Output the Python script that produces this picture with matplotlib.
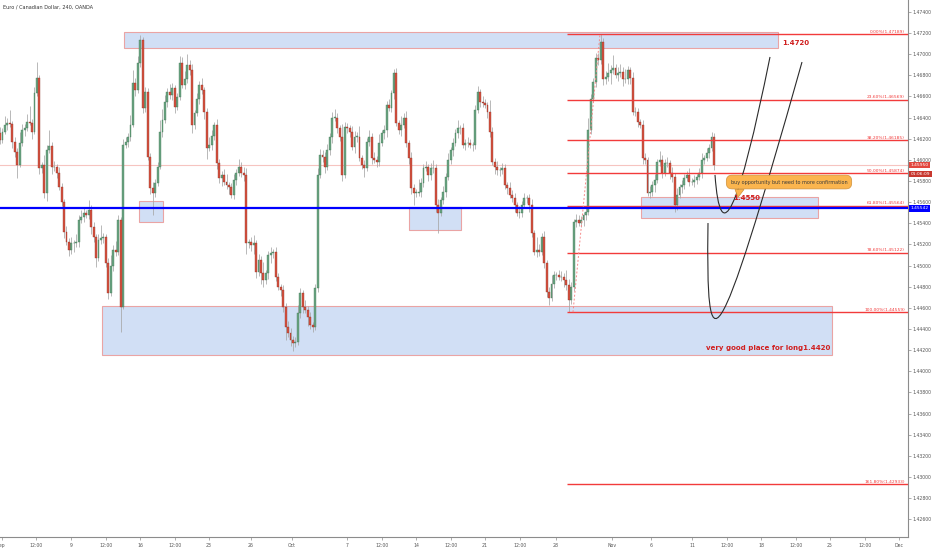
import numpy as np
import matplotlib
matplotlib.use("Agg")
import matplotlib.pyplot as plt
from matplotlib.patches import Rectangle, Polygon, PathPatch
from matplotlib.path import Path
from matplotlib.transforms import blended_transform_factory

##############################
## EURCAD 4h closes (early Sep -> mid Nov)
close = [
    # early Sep
    1.4619, 1.4626, 1.4633, 1.4635, 1.4634, 1.4617, 1.4607, 1.4595, 1.4616, 1.4628,
    1.4630, 1.4636, 1.4635, 1.4626, 1.4663, 1.4677, 1.4592,
    # 9 -> 16 Sep
    1.4595, 1.4569, 1.4609, 1.4613, 1.4593, 1.4593, 1.4588, 1.4574, 1.4560, 1.4532,
    1.4522, 1.4515, 1.4521, 1.4521, 1.4522, 1.4543, 1.4546, 1.4550, 1.4548, 1.4553,
    1.4536, 1.4527, 1.4507, 1.4524, 1.4526, 1.4527, 1.4502, 1.4474, 1.4500, 1.4515,
    1.4513, 1.4543, 1.4461, 1.4614,
    1.4617, 1.4622, 1.4633, 1.4673, 1.4666, 1.4692, 1.4713, 1.4649, 1.4664, 1.4603,
    1.4573, 1.4569, 1.4578, 1.4593, 1.4626, 1.4638, 1.4655, 1.4664, 1.4661, 1.4668,
    1.4650, 1.4659, 1.4692,
    # 23 Sep -> early Oct
    1.4671, 1.4676, 1.4690, 1.4685, 1.4633, 1.4644, 1.4658, 1.4671, 1.4666, 1.4645,
    1.4611, 1.4614, 1.4623, 1.4633, 1.4597, 1.4583, 1.4586, 1.4579, 1.4576, 1.4574,
    1.4567, 1.4581, 1.4588, 1.4593, 1.4588, 1.4586, 1.4521, 1.4522,
    1.4519, 1.4521, 1.4494, 1.4505, 1.4493, 1.4486, 1.4493, 1.4510,
    1.4512, 1.4513, 1.4489, 1.4480, 1.4477, 1.4461, 1.4442, 1.4436, 1.4430, 1.4427,
    1.4428, 1.4455, 1.4474, 1.4461, 1.4458, 1.4451, 1.4444, 1.4442, 1.4479, 1.4586,
    1.4605, 1.4603,
    # Oct -> end Oct
    1.4593, 1.4609, 1.4622, 1.4640, 1.4640, 1.4630, 1.4622, 1.4586, 1.4631, 1.4630,
    1.4626, 1.4612, 1.4622, 1.4622, 1.4602, 1.4595, 1.4592, 1.4617, 1.4622, 1.4602,
    1.4600, 1.4598, 1.4616, 1.4625, 1.4628, 1.4652, 1.4649, 1.4663, 1.4682, 1.4635,
    1.4628, 1.4633, 1.4640, 1.4616, 1.4602, 1.4573, 1.4569, 1.4569, 1.4570, 1.4578,
    1.4592, 1.4593, 1.4586, 1.4592, 1.4592, 1.4557, 1.4550, 1.4562, 1.4570, 1.4584,
    1.4600, 1.4609, 1.4616, 1.4625, 1.4630, 1.4630, 1.4614, 1.4616, 1.4616, 1.4614,
    1.4614, 1.4647, 1.4664, 1.4655, 1.4654, 1.4652, 1.4645, 1.4626, 1.4598, 1.4593,
    1.4590, 1.4590, 1.4592, 1.4576, 1.4573, 1.4567, 1.4564, 1.4557, 1.4550, 1.4550,
    1.4557, 1.4564, 1.4564, 1.4557, 1.4531, 1.4513, 1.4515, 1.4513, 1.4527, 1.4502,
    1.4475, 1.4469, 1.4483, 1.4491, 1.4491, 1.4489, 1.4489, 1.4486, 1.4482, 1.4467,
    1.4480, 1.4541, 1.4543, 1.4540, 1.4543, 1.4548, 1.4551, 1.4628, 1.4658, 1.4674,
    1.4696,
    # Nov
    1.4694, 1.4711, 1.4676, 1.4678, 1.4682, 1.4685, 1.4687, 1.4680, 1.4682, 1.4683,
    1.4676, 1.4676, 1.4685, 1.4677, 1.4645, 1.4645, 1.4636, 1.4633, 1.4602, 1.4600,
    1.4569, 1.4570, 1.4576, 1.4581, 1.4598, 1.4600, 1.4588, 1.4597, 1.4597, 1.4588,
    1.4584, 1.4557, 1.4567, 1.4574, 1.4576, 1.4583, 1.4586, 1.4579, 1.4579, 1.4581,
    1.4584, 1.4588, 1.4600, 1.4602, 1.4606, 1.4611, 1.4622, 1.4595,
]
first_open = 1.4625

# wick lengths beyond the body, in pips
wick_up = [
    6, 4, 8, 5, 12, 3, 5, 4, 10, 6, 4, 7, 15, 4, 6, 16, 3,
    3, 10, 5, 15, 4, 6, 3, 5, 4, 3, 5, 4, 6, 3, 8, 5, 7, 4, 3, 9,
    4, 5, 3, 6, 12, 4, 3, 5, 10, 4, 8, 5, 3, 6,
    5, 3, 9, 12, 4, 6, 5, 3, 5, 4, 3, 6, 4, 5, 12, 10, 6, 4, 8, 5, 3, 4, 6,
    5, 8, 10, 4, 6, 3, 5, 4, 6, 3, 4, 8, 5, 3, 6, 4, 3, 5, 8, 3,
    4, 6, 3, 8, 5, 5, 6, 3, 5, 8, 3, 6, 4, 10, 3, 4,
    6, 3, 5, 4, 3, 5, 4, 6, 5, 3, 4, 8, 5, 3, 6, 4, 5, 3, 4, 6, 5, 4,
    4, 6, 3, 5, 8, 4, 3, 12, 5, 4, 3, 6, 5, 4, 10, 3, 5, 4, 6, 3,
    5, 4, 8, 3, 5, 4, 6, 3, 4, 5, 3, 8, 4, 6, 3, 5, 4, 3, 12, 5,
    4, 6, 3, 5, 8, 4, 6, 3, 5, 4, 6, 3, 5, 4, 8, 3, 5, 4, 6, 4,
    3, 5, 6, 3, 5, 4, 3, 12, 5, 4, 6, 3, 5, 4, 3, 6, 4, 5, 3, 6,
    4, 5, 3, 4, 6, 3, 12, 5, 4, 6, 3, 5, 8, 4, 3, 5, 6, 4, 10, 5,
    4, 3, 6, 5, 4, 3, 5, 12, 4, 3, 5,
    5, 8, 4, 6, 10, 5, 12, 4, 6, 8, 5, 10, 4, 3, 6, 5, 4, 3, 5, 4,
    3, 5, 4, 6, 3, 8, 5, 4, 6, 3, 5, 4, 6, 3, 5, 4, 3, 6, 4, 5,
    3, 4, 6, 3, 5, 4, 4, 3,
]
wick_dn = [
    4, 3, 2, 5, 3, 6, 4, 12, 2, 3, 5, 3, 2, 6, 2, 3, 5,
    4, 5, 8, 3, 6, 4, 5, 3, 4, 6, 3, 6, 4, 8, 3, 4, 3, 5, 3, 4,
    6, 5, 8, 3, 4, 5, 3, 6, 3, 5, 4, 3, 24, 2,
    3, 5, 4, 2, 6, 3, 4, 5, 4, 3, 5, 21, 4, 3, 2, 4, 3, 5, 3, 4, 6, 3, 2,
    3, 4, 3, 5, 8, 4, 3, 5, 4, 6, 10, 3, 5, 4, 6, 5, 8, 3, 4, 6,
    3, 4, 5, 3, 4, 6, 10, 4, 5, 8, 6, 4, 10, 6, 3, 6,
    8, 5, 4, 3, 6, 5, 12, 4, 6, 8, 4, 3, 5, 6, 3, 8, 4, 5, 3, 4, 3, 5,
    5, 3, 4, 6, 3, 5, 4, 6, 3, 5, 4, 3, 6, 5, 3, 4, 8, 3, 4, 6,
    3, 5, 4, 3, 5, 6, 3, 4, 5, 3, 4, 5, 3, 4, 6, 5, 12, 4, 3, 5,
    4, 3, 6, 5, 4, 6, 19, 3, 4, 5, 3, 4, 5, 3, 4, 6, 3, 5, 4, 3,
    6, 4, 3, 5, 4, 3, 5, 4, 3, 6, 4, 5, 3, 4, 5, 3, 4, 6, 3, 5,
    4, 3, 5, 6, 4, 3, 5, 4, 3, 4, 5, 6, 3, 4, 5, 3, 4, 6, 5, 11,
    3, 4, 5, 3, 4, 6, 5, 3, 4, 3, 5,
    4, 3, 5, 4, 3, 10, 4, 3, 5, 4, 6, 3, 4, 5, 3, 4, 5, 3, 6, 4,
    3, 5, 4, 6, 3, 4, 5, 3, 4, 6, 5, 6, 4, 3, 5, 4, 3, 4, 3, 5,
    4, 3, 5, 4, 3, 4, 3, 5,
]

# fibonacci retracement drawn on the last leg
fib_pct = [0.0, 23.6, 38.2, 50.0, 61.8, 78.6, 100.0, 161.8]
fib_price = [1.47189, 1.46569, 1.46185, 1.45874, 1.45564, 1.45122, 1.44559, 1.42933]

last_price = 1.45950
countdown = "01:06:09"
blue_level = 1.45542

price_ticks = [1.426, 1.428, 1.430, 1.432, 1.434, 1.436, 1.438, 1.440, 1.442, 1.444,
               1.446, 1.448, 1.450, 1.452, 1.454, 1.456, 1.458, 1.460, 1.462, 1.464,
               1.466, 1.468, 1.470, 1.472, 1.474]
date_labels = ["Sep", "12:00", "9", "12:00", "16", "12:00", "23", "26", "Oct", "7",
               "12:00", "14", "12:00", "21", "12:00", "28", "Nov", "6", "11", "12:00",
               "18", "12:00", "25", "12:00", "Dec"]
# where the date labels sit (chart pixels, TradingView skips weekends)
date_px = [1.5, 36, 71, 106, 140, 175, 209, 251, 292, 347, 382, 416, 451, 485, 520,
           556, 612, 651, 692, 727, 761, 796, 830, 865, 899]

##############################
## candles
close = np.array(close)
opn = np.r_[first_open, close[:-1]]
hi = np.maximum(opn, close) + np.array(wick_up) * 1e-4
lo = np.minimum(opn, close) - np.array(wick_dn) * 1e-4
n = len(close)
step = 714.0 / (n - 1)
x = np.arange(n) * step
up = close >= opn
body = np.abs(close - opn)
body = np.where(body < 3e-5, 3e-5, body)
bottom = np.minimum(opn, close)

fig = plt.figure(figsize=(9.32, 5.5), dpi=100)
ax = fig.add_axes([0, 13 / 550, 908 / 932, 537 / 550])
ax.set_xlim(0, 908)
ax.set_ylim(1.42432, 1.47512)

# zones (blue boxes)
box_fc = "#d1dff5"
box_ec = "#eaa4a4"
zones = [(124, 778, 1.47058, 1.47210),
         (139, 163, 1.45413, 1.45611),
         (409, 461, 1.45336, 1.45554),
         (102, 832, 1.44154, 1.44617),
         (641, 818, 1.45450, 1.45649)]
for x0, x1, y0, y1 in zones:
    ax.add_patch(Rectangle((x0, y0), x1 - x0, y1 - y0, fc=box_fc, ec=box_ec, lw=0.8, zorder=1))

# current price line
ax.axhline(last_price, color="#f6c4c0", lw=0.8, zorder=2)

ax.vlines(x, lo, hi, color="#a6a6a6", lw=0.55, zorder=3)
ax.bar(x[up], body[up], bottom=bottom[up], width=step * 0.78, color="#6ba583",
       edgecolor="#3d7451", lw=0.25, zorder=4)
ax.bar(x[~up], body[~up], bottom=bottom[~up], width=step * 0.78, color="#d75442",
       edgecolor="#8a2a1f", lw=0.25, zorder=4)

# fib levels
fib_red = "#f23b3b"
ax.hlines(fib_price, 567, 908, color=fib_red, lw=1.0, zorder=5)
for pct, p in zip(fib_pct, fib_price):
    ax.text(905, p + 0.00005, f"{pct:.2f}%({p:.5f})", ha="right", va="bottom",
            fontsize=3.2, color=fib_red, zorder=6)
ax.plot([573, 600], [fib_price[6], fib_price[0]], ls=(0, (2, 2)), color="#f58a8a",
        lw=0.7, zorder=5)

# support line
ax.axhline(blue_level, color="#0000ff", lw=1.6, zorder=6)

# hand drawn scenarios
curve_a = Path([(715, 1.45857), (723, 1.44769), (770, 1.46973)],
               [Path.MOVETO, Path.CURVE3, Path.CURVE3])
curve_b = Path([(708, 1.45402), (706, 1.44012), (715, 1.44012), (802, 1.46925)],
               [Path.MOVETO, Path.CURVE4, Path.CURVE4, Path.CURVE4])
for c in (curve_a, curve_b):
    ax.add_patch(PathPatch(c, fc="none", ec="#2b2b2b", lw=0.8, zorder=7))

# notes
note_red = "#d01f1f"
ax.text(782, 1.47105, "1.4720", fontsize=5, fontweight="bold", color=note_red,
        ha="left", va="center", zorder=8)
ax.text(733, 1.45639, "1.4550", fontsize=5, fontweight="bold", color=note_red,
        ha="left", va="center", zorder=8)
ax.text(830, 1.44220, "very good place for long1.4420", fontsize=5, fontweight="bold",
        color=note_red, ha="right", va="center", zorder=8)
ax.add_patch(Polygon([(735, 1.45720), (744, 1.45720), (738, 1.45645)], closed=True,
                     fc="#fbb54e", ec="#d0913a", lw=0.5, zorder=8))
ax.text(789, 1.45790, "buy opportunity but need to more confirmation", fontsize=3.5,
        color="#3a3a3a", ha="center", va="center", zorder=9,
        bbox=dict(boxstyle="round,pad=0.9,rounding_size=1.2", fc="#fbb54e",
                  ec="#d0913a", lw=0.5))

# axes styling
for s in ("top", "left"):
    ax.spines[s].set_visible(False)
for s in ("right", "bottom"):
    ax.spines[s].set_color("#8c8c8c")
    ax.spines[s].set_linewidth(0.8)
ax.yaxis.tick_right()
ax.set_yticks(price_ticks)
ax.set_yticklabels([f"{v:.5f}" for v in price_ticks])
ax.set_xticks(date_px)
ax.set_xticklabels(date_labels)
ax.tick_params(axis="y", length=2, width=0.5, color="#8c8c8c", labelcolor="#555555",
               labelsize=3.3, pad=1.5)
ax.tick_params(axis="x", length=2, width=0.5, color="#8c8c8c", labelcolor="#555555",
               labelsize=3.3, pad=2.5)

# price tags on the scale
tr = blended_transform_factory(ax.transAxes, ax.transData)
ax.text(1.003, last_price, f"{last_price:.5f}", transform=tr, fontsize=3.2, color="white",
        ha="left", va="center", clip_on=False, zorder=10,
        bbox=dict(boxstyle="square,pad=0.3", fc="#e2473e", ec="none"))
ax.text(1.003, last_price - 0.00085, countdown, transform=tr, fontsize=3.2, color="white",
        ha="left", va="center", clip_on=False, zorder=10,
        bbox=dict(boxstyle="square,pad=0.3", fc="#c8382f", ec="none"))
ax.text(1.003, blue_level, f"{blue_level:.5f}", transform=tr, fontsize=3.2, color="white",
        ha="left", va="center", clip_on=False, zorder=10,
        bbox=dict(boxstyle="square,pad=0.3", fc="#0000ff", ec="none"))

fig.text(3 / 932, 1 - 7 / 550, "Euro / Canadian Dollar, 240, OANDA", fontsize=3.6,
         color="#333333", ha="left", va="center")

fig.savefig("out.png", dpi=100)
